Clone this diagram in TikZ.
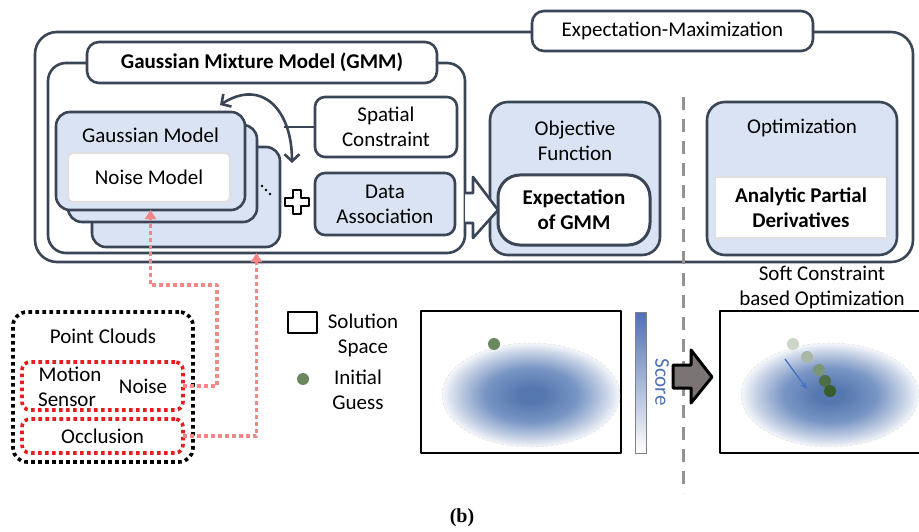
\documentclass[tikz,border=0pt]{standalone}
\usepackage{fontspec}
\setmainfont{Carlito}
\newfontfamily\capfont{Liberation Serif}
\usetikzlibrary{arrows.meta,shapes.geometric}
\definecolor{dk}{RGB}{58,69,86}
\definecolor{lb}{RGB}{218,227,243}
\definecolor{pk}{RGB}{241,135,135}
\definecolor{rd}{RGB}{232,30,30}
\definecolor{gr}{RGB}{107,135,93}
\definecolor{blobc}{RGB}{86,120,176}
\definecolor{blobm}{RGB}{120,149,196}
\definecolor{blobo}{RGB}{200,211,230}
\definecolor{bloba}{RGB}{245,247,251}
\definecolor{sc}{RGB}{79,112,176}
\definecolor{ag}{RGB}{122,116,116}
\definecolor{ba}{RGB}{68,114,196}
\definecolor{d1}{RGB}{205,213,200}
\definecolor{d2}{RGB}{169,184,164}
\definecolor{d3}{RGB}{124,148,120}
\definecolor{d4}{RGB}{79,110,72}
\definecolor{d5}{RGB}{54,93,43}
\pgfdeclareradialshading{blob}{\pgfpoint{0bp}{0bp}}{color(0bp)=(blobc); color(4bp)=(blobc); color(13bp)=(blobm); color(21bp)=(blobo); color(25bp)=(bloba); color(50bp)=(white)}
\tikzset{
  bx/.style={draw=dk, line width=2.6pt, rounded corners=#1, inner sep=0pt, outer sep=0pt, align=center},
  bx/.default=14pt,
  bf/.style={font=\fontsize{21}{25}\selectfont\bfseries},
  dotl/.style={line width=3.6pt, dash pattern=on 3.6pt off 3.4pt},
  pinkc/.style={pk, dotl, -{Triangle[length=9pt,width=11pt]}},
  darkl/.style={dk, line width=2.6pt},
  plot/.style={draw=black, line width=1.6pt, inner sep=0pt, outer sep=0pt},
  blobe/.style={shading=blob, draw=gray!25, line width=0.5pt, densely dashed},
}
\begin{document}
\begin{tikzpicture}[x=1pt,y=-1pt,font=\fontsize{21}{25}\selectfont,line join=round]
\clip (0,0) rectangle (919,532);
\fill[white] (0,0) rectangle (919,532);
% EM frame
\node[bx=22pt, minimum width=878pt, minimum height=230pt] (em) at (474,147) {};
\node[bx=12pt, fill=white, minimum width=281pt, minimum height=40pt] (emlab) at (672.5,31) {Expectation-Maximization};
% GMM frame
\node[bx=18pt, minimum width=417pt, minimum height=190pt] (gmm) at (256.5,158) {};
\node[bx=12pt, fill=white, minimum width=350pt, minimum height=41pt, bf] (gmmlab) at (262,62.5) {Gaussian Mixture Model (GMM)};
% Gaussian model stack
\node[bx=14pt, fill=lb, minimum width=188pt, minimum height=100pt] (gm3) at (186,197) {};
\node[bx=14pt, fill=lb, minimum width=189pt, minimum height=97pt] (gm2) at (162.5,173.5) {};
\node[bx=14pt, fill=lb, minimum width=189pt, minimum height=98pt] (gm1) at (150.5,161) {};
\node (gmt) at (150.5,135) {Gaussian Model};
\node[draw=black!12, line width=2pt, fill=white, rounded corners=5pt, minimum width=162pt, minimum height=49pt, inner sep=0pt] (noise) at (149,177.5) {Noise Model};
\fill[black] (262,186) circle (1.3) (266,190) circle (1.3) (270,194) circle (1.3);
% spatial / data
\node[bx=10pt, fill=white, minimum width=142pt, minimum height=60pt] (spat) at (386,127) {Spatial\\Constraint};
\node[bx=10pt, fill=lb, minimum width=140pt, minimum height=62pt] (data) at (385,204) {Data\\Association};
\coordinate (cm) at (284,127);
\coordinate (ca) at (220,105);
\coordinate (cb) at (292,163);
\draw[darkl] (spat.west) -- (cm);
\draw[darkl, {Straight Barb[length=7pt,width=15pt]}-{Straight Barb[length=7pt,width=15pt]}] (ca) .. controls (262,78) and (292,110) .. (cb);
% plus
\draw[black, line width=2.4pt, fill=white] (293,190) -- (301,190) -- (301,198) -- (309,198) -- (309,206) -- (301,206) -- (301,214) -- (293,214) -- (293,206) -- (285,206) -- (285,198) -- (293,198) -- cycle;
% objective
\node[bx=18pt, fill=lb, minimum width=170pt, minimum height=153pt] (obj) at (575,178.5) {};
\node[align=center] (objt) at (575,140.5) {Objective\\Function};
\node[bx=22pt, fill=white, line width=3pt, minimum width=152pt, minimum height=70pt, bf] (exp) at (574,210) {Expectation\\of GMM};
\draw[darkl, fill=white] (gmm.east |- 0,193) -- (473,193) -- (473,177) -- (exp.west) -- (473,238) -- (473,223) -- (gmm.east |- 0,223);
% optimization
\node[bx=18pt, fill=lb, minimum width=190pt, minimum height=153pt] (opt) at (802,178.5) {};
\node (optt) at (802,128) {Optimization};
\node[draw=black!12, line width=2pt, fill=white, minimum width=172pt, minimum height=61pt, bf, align=center, inner sep=0pt] (ana) at (801,207.5) {Analytic Partial\\Derivatives};
% point clouds
\node[draw=black, dotl, rounded corners=14pt, minimum width=180pt, minimum height=150pt] (pc) at (103,387) {};
\node (pct) at (103,336) {Point Clouds};
\node[draw=rd, dotl, rounded corners=8pt, minimum width=161pt, minimum height=48pt, inner sep=0pt, outer sep=0pt] (mot) at (102.5,386) {};
\node at (70,374) {Motion};
\node at (67,400) {Sensor};
\node at (143,386) {Noise};
\node[draw=rd, dotl, rounded corners=8pt, minimum width=161pt, minimum height=34pt, inner sep=0pt, outer sep=0pt] (occ) at (102.5,436) {Occlusion};
\coordinate (k1) at (217,285);
\draw[pinkc] (mot.east) -| (k1) -| (gm1.south);
\draw[pinkc] (occ.east) -| (gmm.south);
% legend
\node[draw=black, line width=1.5pt, minimum width=29pt, minimum height=21pt, inner sep=0pt] (sq) at (302.5,322.5) {};
\node[align=center] (sst) at (363,335) {Solution\\Space};
\fill[gr] (303,379) circle (6);
\node[align=center] (igt) at (358,390) {Initial\\Guess};
% left plot
\node[plot, minimum width=200pt, minimum height=142pt] (p1) at (521,382) {};
\path[blobe] (531,395) ellipse [x radius=89, y radius=52];
\fill[gr] (494,344) circle (6);
\node[draw=gray, line width=1pt, top color=sc, bottom color=white, minimum width=11pt, minimum height=141pt, inner sep=0pt] (bar) at (640.5,382.5) {};
\node[rotate=-90, text=sc] (sct) at (662,382) {Score};
% dashed divider
\draw[gray!85, line width=3pt, dash pattern=on 13pt off 9pt] (683,97) -- (683,493);
% big arrow
\draw[black, line width=3pt, fill=ag] (673,365) -- (691,365) -- (691,350) -- (712,377) -- (691,403) -- (691,388) -- (673,388) -- cycle;
% right plot
\node[align=center] (sct2) at (822,287) {Soft Constraint\\based Optimization};
\node[plot, minimum width=210pt, minimum height=142pt] (p2) at (825,382) {};
\path[blobe] (830,395) ellipse [x radius=89, y radius=52];
\fill[d1] (793,344) circle (6);
\fill[d2] (807,357) circle (6);
\fill[d3] (819,370) circle (6);
\fill[d4] (825,381) circle (6);
\fill[d5] (830,391) circle (6);
\coordinate (ba1) at (785,359);
\coordinate (ba2) at (807,389);
\draw[ba, line width=1.3pt, -{Stealth[length=7pt,width=6pt]}] (ba1) -- (ba2);
% caption
\node[font=\capfont\fontsize{20}{24}\selectfont\bfseries] (cap) at (462,518) {(b)};
\end{tikzpicture}
\end{document}
